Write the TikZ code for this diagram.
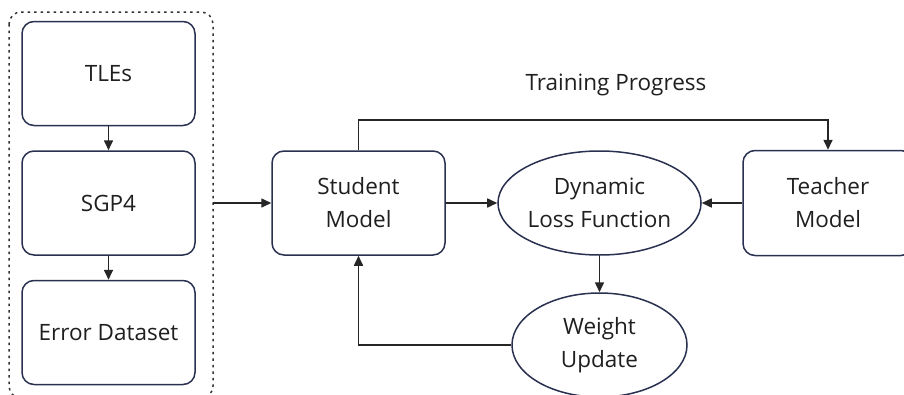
\documentclass[tikz,border=0pt]{standalone}
\usepackage{fontspec}
\setmainfont{Open Sans}
\usetikzlibrary{arrows.meta,shapes.geometric}
\definecolor{bord}{HTML}{2A3150}
\tikzset{
  box/.style={draw=bord,line width=1.5pt,rounded corners=12pt,minimum width=173pt,minimum height=104pt,align=center,inner sep=0pt},
  oval/.style={draw=bord,line width=1.5pt,ellipse,minimum width=175pt,minimum height=104pt,align=center,inner sep=0pt},
  arr/.style={line width=1.6pt,draw=black!85,-{Triangle[length=10pt,width=9pt]}},
  lbl/.style={font=\fontsize{22.5}{33}\selectfont,text=black!88}
}
\begin{document}
\begin{tikzpicture}[x=1pt,y=-1pt]
\useasboundingbox (0,0) rectangle (904,394);
\clip (0,0) rectangle (904,394);
\fill[white] (0,0) rectangle (904,394);
\draw[black!80,line width=1.5pt,dash pattern=on 2.5pt off 4pt,rounded corners=12pt] (9,12) rectangle (213,398);
\coordinate (grpE) at (213,203);
\node[box,lbl] (tles) at (108.5,73.5) {TLEs};
\node[box,lbl] (sgp4) at (108.5,203) {SGP4};
\node[box,lbl] (err) at (108.5,332.5) {Error Dataset};
\node[box,lbl] (student) at (358.5,203) {Student\\Model};
\node[oval,lbl] (dyn) at (599.5,203) {Dynamic\\Loss Function};
\node[oval,lbl] (weight) at (599.5,345) {Weight\\Update};
\node[box,lbl,minimum width=170pt,minimum height=105pt] (teacher) at (828,203) {Teacher\\Model};
\node[lbl] (tp) at (616,85) {Training Progress};
\coordinate (tpl) at (358.5,120);
\draw[arr] (tles.south) -- (sgp4.north);
\draw[arr] (sgp4.south) -- (err.north);
\draw[arr] (grpE) -- (student.west);
\draw[arr] (student.north) -- (tpl) -| (teacher.north);
\draw[arr] (student.east) -- (dyn.west);
\draw[arr] (teacher.west) -- (dyn.east);
\draw[arr] (dyn.south) -- (weight.north);
\draw[arr] (weight.west) -| (student.south);
\end{tikzpicture}
\end{document}
